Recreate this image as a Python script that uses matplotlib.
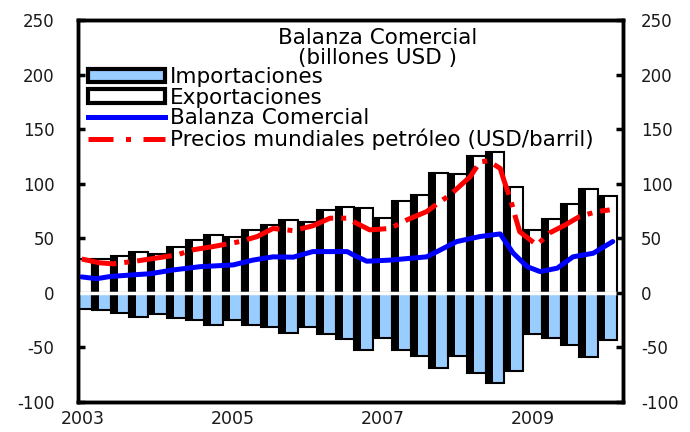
import matplotlib.pyplot as plt
import numpy as np
from matplotlib.patches import Patch
from matplotlib.lines import Line2D

# quarters 2003Q1 .. 2010Q1
quarters = [2003.00, 2003.25, 2003.50, 2003.75,
            2004.00, 2004.25, 2004.50, 2004.75,
            2005.00, 2005.25, 2005.50, 2005.75,
            2006.00, 2006.25, 2006.50, 2006.75,
            2007.00, 2007.25, 2007.50, 2007.75,
            2008.00, 2008.25, 2008.50, 2008.75,
            2009.00, 2009.25, 2009.50, 2009.75,
            2010.00]
exportaciones = [31, 31, 34, 37, 36, 42, 48, 53, 51, 58, 62, 67, 65, 76, 79, 78,
                 69, 84, 90, 110, 109, 125, 129, 97, 58, 68, 81, 95, 89]
importaciones = [-15, -16, -18, -22, -19, -23, -25, -29, -25, -29, -31, -37, -31, -38, -42, -52,
                 -41, -52, -58, -69, -58, -73, -83, -72, -38, -41, -48, -59, -43]

# balanza comercial (smooth line)
bal_t = [2002.99, 2003.19, 2003.37, 2003.67, 2003.90, 2004.21, 2004.57, 2005.01, 2005.27,
         2005.54, 2005.81, 2006.07, 2006.53, 2006.61, 2006.79, 2007.10, 2007.59, 2007.99,
         2008.30, 2008.57, 2008.74, 2008.93, 2009.10, 2009.33, 2009.54, 2009.81, 2010.07]
bal_v = [14.6, 13, 15, 16.5, 17.5, 21, 24, 25.6, 30,
         33, 32.7, 37.8, 37.8, 34.8, 29, 30, 33, 47,
         51.6, 54, 36.6, 24, 19.5, 22.6, 33, 36.3, 47]

# precios mundiales petroleo
oil_t = [2002.99, 2003.23, 2003.41, 2003.67, 2003.90, 2004.26, 2004.47, 2004.74, 2005.10,
         2005.33, 2005.54, 2005.81, 2006.07, 2006.30, 2006.53, 2006.61, 2006.83, 2007.10,
         2007.33, 2007.59, 2007.77, 2007.90, 2008.17, 2008.30, 2008.41, 2008.57, 2008.62,
         2008.71, 2008.77, 2008.83, 2008.97, 2009.06, 2009.23, 2009.43, 2009.63, 2009.86, 2010.03]
oil_v = [31, 27.5, 26.6, 28.7, 31, 34.8, 39.4, 42.4, 47,
         51.6, 59, 57, 61.4, 68.4, 68.4, 65.3, 57.7, 59,
         67, 74.5, 83.6, 89.7, 106.5, 120, 121, 114, 103,
         85, 70, 56, 48.5, 44, 55, 62, 70, 74.5, 76]

yticks = [-100, -50, 0, 50, 100, 150, 200, 250]
xticks = [2003, 2005, 2007, 2009]

fig = plt.figure(figsize=(6.9, 4.32), dpi=100)
ax = fig.add_axes([78/690, 30/432, 545/690, 382/432])

xq = np.array(quarters)
w = 0.25
ax.bar(xq, exportaciones, width=w, color='white', edgecolor='black', linewidth=1.5, zorder=2)
ax.bar(xq - w/2, exportaciones, width=0.38*w, align='edge', color='black', zorder=2)
ax.bar(xq, importaciones, width=w, color='#99ccff', edgecolor='black', linewidth=1.5, zorder=2)
ax.bar(xq - w/2, importaciones, width=0.38*w, align='edge', color='black', zorder=2)
ax.axhline(0, color='white', lw=2.5, zorder=3)

dashdot = (0, (7, 1.6, 1, 1.6))
ax.plot(bal_t, bal_v, color='#0000ff', lw=3.6, zorder=4, solid_capstyle='round')
ax.plot(oil_t, oil_v, color='#ff0000', lw=3.6, ls=dashdot, zorder=4)

ax.set_xlim(2002.94, 2010.207)
ax.set_ylim(-100, 250)
ax.set_xticks(xticks)
ax.set_xticklabels([str(t) for t in xticks], fontsize=12.5, color='#1a1a1a')
ax.tick_params(axis='x', length=0, pad=6)
ax.set_yticks(yticks)
ax.set_yticklabels([str(t) for t in yticks], fontsize=12, color='#1a1a1a')
ax.tick_params(axis='y', direction='in', length=5, width=2.5, pad=17)

ax2 = ax.twinx()
ax2.set_ylim(-100, 250)
ax2.set_yticks(yticks)
ax2.set_yticklabels([str(t) for t in yticks], fontsize=12, color='#1a1a1a')
ax2.tick_params(axis='y', direction='in', length=5, width=2.5, pad=13)

for a in (ax, ax2):
  for s in a.spines.values():
    s.set_linewidth(2.5)
    s.set_color('black')

ax.text(0.55, 0.928, 'Balanza Comercial\n(billones USD )', transform=ax.transAxes,
        ha='center', va='center', fontsize=15.5, linespacing=1.0, zorder=6)

handles = [Patch(facecolor='#99ccff', edgecolor='black', linewidth=3),
           Patch(facecolor='white', edgecolor='black', linewidth=3),
           Line2D([0], [0], color='#0000ff', lw=3.6),
           Line2D([0], [0], color='#ff0000', lw=3.6, ls=(0, (5, 2.5, 1, 2.5)))]
labels = ['Importaciones', 'Exportaciones', 'Balanza Comercial',
          'Precios mundiales petróleo (USD/barril)']
leg = ax.legend(handles, labels, loc='upper left', bbox_to_anchor=(0.018, 0.877),
                frameon=False, fontsize=15.5, borderpad=0, borderaxespad=0,
                handlelength=3.6, handleheight=0.6, handletextpad=0.2, labelspacing=0.03)
leg.set_zorder(7)

fig.savefig('out.png', dpi=100)
